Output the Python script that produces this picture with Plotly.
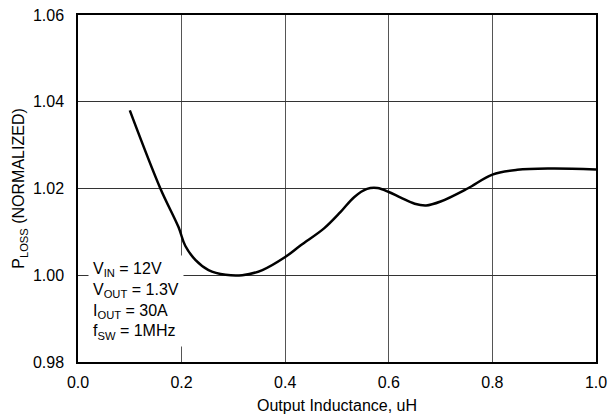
import plotly.graph_objects as go

inductance = [0.100, 0.159, 0.194, 0.207, 0.227, 0.252, 0.285, 0.317, 0.356, 0.400,
              0.430, 0.475, 0.507, 0.533, 0.558, 0.578, 0.600, 0.623, 0.650, 0.672,
              0.700, 0.752, 0.800, 0.848, 0.913, 1.000]
ploss = [1.0380, 1.0200, 1.0111, 1.0068, 1.0035, 1.0012, 1.0001, 1.0000, 1.0012, 1.0042,
         1.0069, 1.0108, 1.0146, 1.0180, 1.0199, 1.0201, 1.0192, 1.0179, 1.0165, 1.0161,
         1.0170, 1.0200, 1.0232, 1.0243, 1.0246, 1.0244]

x_ticks = [0.0, 0.2, 0.4, 0.6, 0.8, 1.0]
y_ticks = [0.98, 1.00, 1.02, 1.04, 1.06]

conditions = "V<sub>IN</sub> = 12V<br>V<sub>OUT</sub> = 1.3V<br>I<sub>OUT</sub> = 30A<br>f<sub>SW</sub> = 1MHz"

font_family = "Liberation Sans, Arial, sans-serif"

fig = go.Figure()
fig.add_trace(go.Scatter(
    x=inductance, y=ploss, mode="lines",
    line=dict(color="black", width=2.5, shape="spline", smoothing=1.0),
    showlegend=False, hoverinfo="skip"))

fig.add_annotation(
    x=0.02, y=0.99412, xref="x", yref="y", xanchor="left", yanchor="middle",
    text=conditions, showarrow=False, align="left",
    font=dict(family=font_family, size=16, color="black"),
    bgcolor="white", borderpad=4)

fig.update_layout(
    width=609, height=419,
    margin=dict(l=78, r=13, t=15, b=57),
    paper_bgcolor="white", plot_bgcolor="white",
    font=dict(family=font_family, size=16, color="black"),
    xaxis=dict(
        range=[0, 1.0], tickvals=x_ticks, tickformat=".1f",
        showgrid=True, gridcolor="#555555", gridwidth=1,
        showline=True, linecolor="black", linewidth=1.5, mirror=True,
        ticks="", zeroline=False, automargin=False, ticklabelstandoff=5,
        ticklabeloverflow="allow",
        title=dict(text="Output Inductance, uH", font=dict(size=16), standoff=10),
    ),
    yaxis=dict(
        range=[0.98, 1.06], tickvals=y_ticks, tickformat=".2f",
        showgrid=True, gridcolor="#333333", gridwidth=1,
        showline=True, linecolor="black", linewidth=1.5, mirror=True,
        ticks="", zeroline=False, automargin=False, ticklabelstandoff=9,
        ticklabeloverflow="allow",
        title=dict(text="P<sub>LOSS</sub> (NORMALIZED)", font=dict(size=16), standoff=4),
    ),
)

fig.write_html("out.html", config={"displayModeBar": False},
               post_script="document.body.style.margin='0';")
